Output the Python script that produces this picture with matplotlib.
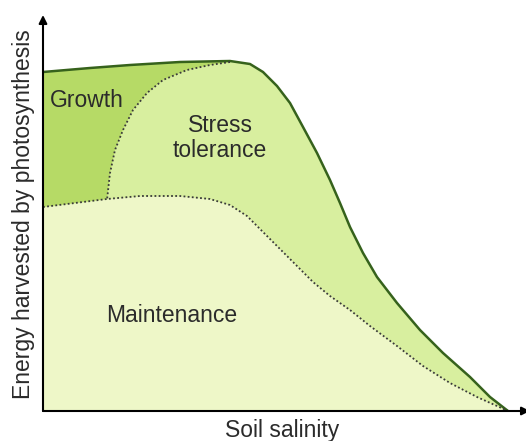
import matplotlib.pyplot as plt
import numpy as np

plt.rcParams['font.family'] = ['Liberation Sans', 'DejaVu Sans']

# total energy harvested (solid outline), x = soil salinity, y = energy (arbitrary units)
total_x = [0, 47, 87, 137, 187, 207, 220, 234, 247, 260, 274, 287, 297, 307,
           320, 334, 354, 377, 400, 427, 447, 465]
total_y = [339, 343, 346, 349, 350, 347, 339, 325, 308, 284, 258, 231, 208, 184,
           158, 134, 108, 81, 58, 34, 14, 0]

# dotted boundary between growth and stress tolerance
growth_x = [187, 167, 144, 120, 104, 90, 80, 72, 67, 64]
growth_y = [349, 346, 341, 331, 318, 301, 281, 261, 238, 211]

# dotted boundary of maintenance energy
maint_x = [0, 32, 64, 97, 137, 167, 187, 204, 220, 237, 254, 270, 287, 307, 327,
           354, 380, 407, 434, 454, 465]
maint_y = [204, 208, 212, 215, 215, 212, 206, 195, 179, 162, 145, 129, 115, 101, 85,
           65, 45, 28, 14, 5, 0]

labels = {"Growth": (44, 311), "Stress\ntolerance": (177, 273), "Maintenance": (129, 95)}

c_growth = "#b6da66"
c_stress = "#d8ef9f"
c_maint = "#eef7c8"
c_line = "#36621c"
c_text = "#2b2b2b"

fig = plt.figure(figsize=(5.26, 4.41), dpi=100)
ax = fig.add_axes([43/526, 30/441, 483/526, 394/441])
ax.set_xlim(0, 483)
ax.set_ylim(0, 394)

# stress tolerance fills everything under the total curve first
ax.fill_between(total_x, total_y, 0, color=c_stress, lw=0)

# growth region: top curve up to the dotted boundary, back along maintenance
n_top = total_x.index(187) + 1
n_m = maint_x.index(64) + 1
gx = total_x[:n_top] + growth_x + maint_x[:n_m][::-1]
gy = total_y[:n_top] + growth_y + maint_y[:n_m][::-1]
ax.fill(gx, gy, color=c_growth, lw=0)

ax.fill_between(maint_x, maint_y, 0, color=c_maint, lw=0)

ax.plot(total_x, total_y, color=c_line, lw=1.8, solid_joinstyle='round')
ax.plot(growth_x, growth_y, color="#3a3a3a", lw=1.3, ls=(0, (1, 1.3)))
ax.plot(maint_x, maint_y, color="#3a3a3a", lw=1.3, ls=(0, (1, 1.3)))

for txt, (x, y) in labels.items():
    ax.text(x, y, txt, ha='center', va='center', fontsize=16.5, color=c_text,
            linespacing=1.15)

# axes with arrows
ax.annotate("", xy=(0, 396), xytext=(0, 0),
            arrowprops=dict(arrowstyle="-|>", color="black", lw=1.5,
                            mutation_scale=12, shrinkA=0, shrinkB=0),
            annotation_clip=False)
ax.annotate("", xy=(487, 0), xytext=(0, 0),
            arrowprops=dict(arrowstyle="-|>", color="black", lw=1.5,
                            mutation_scale=12, shrinkA=0, shrinkB=0),
            annotation_clip=False)

ax.axis('off')

fig.text(282/526, 1 - 430/441, "Soil salinity", ha='center', va='center',
         fontsize=16.5, color=c_text)
fig.text(24/526, 1 - 214/441, "Energy harvested by photosynthesis", ha='center',
         va='center', rotation=90, fontsize=16.5, color=c_text)

fig.savefig("out.png", dpi=100, facecolor="white")
